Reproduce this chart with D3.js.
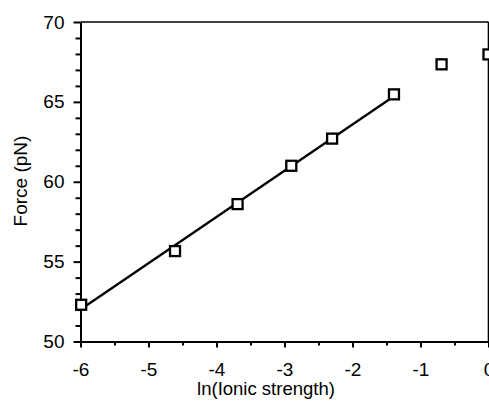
<!DOCTYPE html>
<meta charset="utf-8">
<style>
body { margin: 0; background: white; }
text { font-family: "Liberation Sans", Arial, sans-serif; fill: black; }
.axis path, .axis line { stroke: black; }
</style>
<body>
<script src="https://d3js.org/d3.v7.min.js"></script>
<script>
// data
var lnIonic = [-5.99, -4.61, -3.69, -2.90, -2.30, -1.39, -0.69, 0];
var force   = [52.3, 55.66, 58.6, 61.0, 62.7, 65.47, 67.35, 67.97];
// straight fit drawn through the first six points (ends as read)
var fitX = [-6, -1.39];
var fitY = [52.0, 65.35];
var xTicks = [-6, -5, -4, -3, -2, -1, 0];
var yTicks = [50, 55, 60, 65, 70];

var width = 489, height = 408;
var plotL = 80.5, plotR = 488.5, plotT = 22, plotB = 341.5;

var x = d3.scaleLinear().domain([-6, 0]).range([plotL, plotR]);
var y = d3.scaleLinear().domain([50, 70]).range([plotB, plotT]);

// plain hyphen instead of the unicode minus
var fmt = function(d) { return String(d); };

var svg = d3.select("body").append("svg")
    .attr("width", width)
    .attr("height", height);

// top and right frame
svg.append("line")
    .attr("x1", plotL).attr("x2", plotR).attr("y1", plotT).attr("y2", plotT)
    .attr("stroke", "black").attr("stroke-width", 1.6);
svg.append("line")
    .attr("x1", plotR).attr("x2", plotR).attr("y1", plotT).attr("y2", plotB)
    .attr("stroke", "black").attr("stroke-width", 1.6);

// minor ticks
var xMinor = d3.range(-5.5, 0, 1);
var yMinor = d3.range(51, 70, 1).filter(function(v) { return v % 5 != 0; });

svg.append("g")
    .attr("class", "axis")
    .attr("transform", "translate(0," + plotB + ")")
    .call(d3.axisBottom(x).tickValues(xMinor).tickSize(4).tickFormat(""))
    .call(function(g) { g.select(".domain").remove(); })
    .selectAll("line").attr("stroke-width", 2);

svg.append("g")
    .attr("class", "axis")
    .attr("transform", "translate(" + plotL + ",0)")
    .call(d3.axisLeft(y).tickValues(yMinor).tickSize(5).tickFormat(""))
    .call(function(g) { g.select(".domain").remove(); })
    .selectAll("line").attr("stroke-width", 2);

// main axes
var xAxis = svg.append("g")
    .attr("class", "axis")
    .attr("transform", "translate(0," + plotB + ")")
    .call(d3.axisBottom(x).tickValues(xTicks).tickSize(6).tickSizeOuter(0).tickPadding(15).tickFormat(fmt));
xAxis.select(".domain").attr("stroke-width", 2);
xAxis.selectAll("line").attr("stroke-width", 2);
xAxis.selectAll("text").style("font-size", "19px");

var yAxis = svg.append("g")
    .attr("class", "axis")
    .attr("transform", "translate(" + plotL + ",0)")
    .call(d3.axisLeft(y).tickValues(yTicks).tickSize(7).tickSizeOuter(0).tickPadding(9).tickFormat(fmt));
yAxis.select(".domain").attr("stroke-width", 2);
yAxis.selectAll("line").attr("stroke-width", 2);
yAxis.selectAll("text").style("font-size", "19px");

// fitted line
svg.append("path")
    .datum(d3.zip(fitX, fitY))
    .attr("fill", "none")
    .attr("stroke", "black")
    .attr("stroke-width", 2.3)
    .attr("d", d3.line().x(function(d) { return x(d[0]); }).y(function(d) { return y(d[1]); }));

// square markers
var s = 10;
svg.selectAll("rect.pt")
    .data(d3.zip(lnIonic, force))
    .enter().append("rect")
    .attr("class", "pt")
    .attr("x", function(d) { return x(d[0]) - s / 2; })
    .attr("y", function(d) { return y(d[1]) - s / 2; })
    .attr("width", s).attr("height", s)
    .attr("fill", "white")
    .attr("stroke", "black")
    .attr("stroke-width", 2.3);

// axis titles
svg.append("text")
    .attr("x", 266).attr("y", 395)
    .attr("text-anchor", "middle")
    .style("font-size", "18.5px")
    .text("ln(Ionic strength)");

svg.append("text")
    .attr("transform", "translate(27,181) rotate(-90)")
    .attr("text-anchor", "middle")
    .style("font-size", "19px")
    .text("Force (pN)");
</script>
